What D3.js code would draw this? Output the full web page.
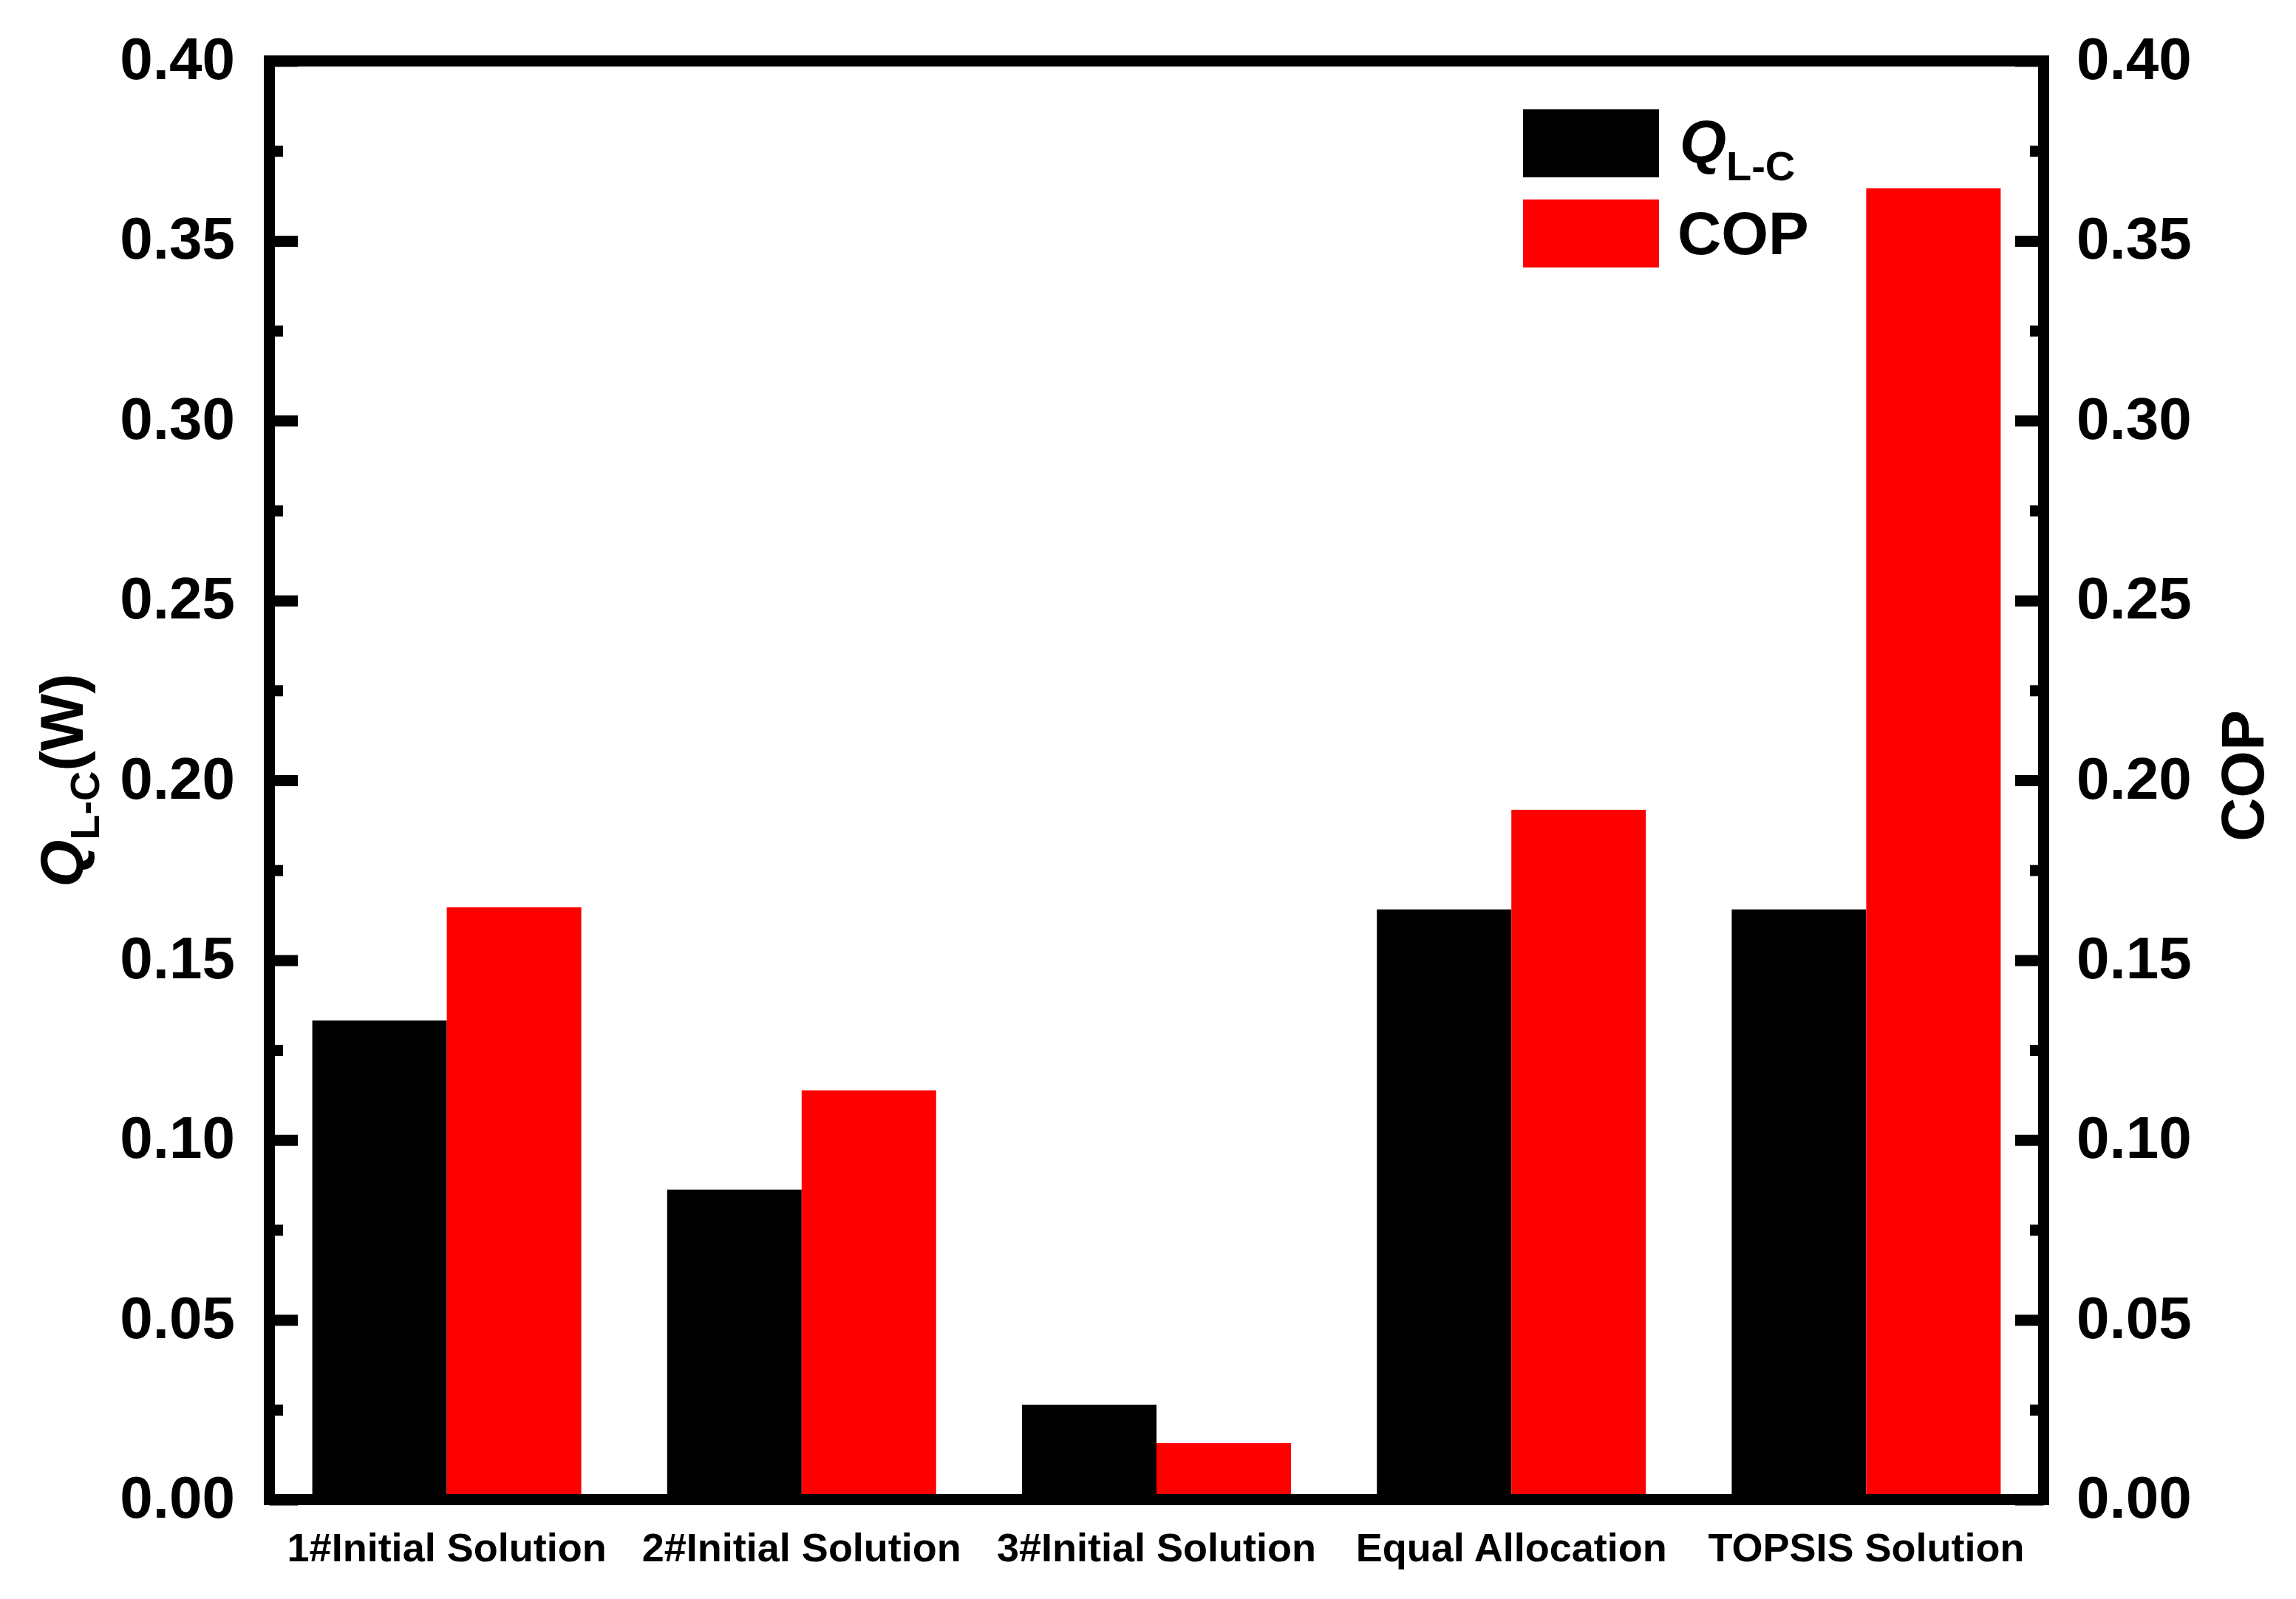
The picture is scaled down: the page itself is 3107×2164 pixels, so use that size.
<!DOCTYPE html>
<html>
<head>
<meta charset="utf-8">
<script src="https://cdn.jsdelivr.net/npm/d3@7"></script>
<style>
  html, body { margin: 0; padding: 0; background: #fff; }
  svg { display: block; }
  text { font-family: "Liberation Sans", Arial, Helvetica, sans-serif; font-weight: bold; fill: #000; }
</style>
</head>
<body>
<svg id="chart" width="3107" height="2164"></svg>
<script>
// ---- Data ----
const categories = ["1#Initial Solution", "2#Initial Solution", "3#Initial Solution", "Equal Allocation", "TOPSIS Solution"];
const qlcValues = [0.1332, 0.0862, 0.0264, 0.1641, 0.1641];
const copValues = [0.1647, 0.1138, 0.0157, 0.1918, 0.3646];
const majorTicks = [0.00, 0.05, 0.10, 0.15, 0.20, 0.25, 0.30, 0.35, 0.40];
const minorTicks = [0.025, 0.075, 0.125, 0.175, 0.225, 0.275, 0.325, 0.375];
const seriesNames = ["Q", "COP"];
const seriesColors = ["#000000", "#ff0000"];

(function () {
// ---- Layout ----
const pL = 364.5, pR = 2765.5, pT = 82.5, pB = 2029.5;
const axisW = 15;

const svg = d3.select("#chart");

const x = d3.scaleBand().domain(categories).range([pL, pR]).paddingInner(0).paddingOuter(0);
const y = d3.scaleLinear().domain([0, 0.4]).range([pB, pT]);
const yR = d3.scaleLinear().domain([0, 0.4]).range([pB, pT]);

const barW = x.bandwidth() * 0.379;

// bars
const gBars = svg.append("g");
gBars.selectAll("rect.q").data(categories).join("rect").attr("class", "q")
  .attr("x", d => x(d) + x.bandwidth() / 2 - barW)
  .attr("width", barW)
  .attr("y", (d, i) => y(qlcValues[i]))
  .attr("height", (d, i) => y(0) - y(qlcValues[i]))
  .attr("fill", seriesColors[0]);
gBars.selectAll("rect.c").data(categories).join("rect").attr("class", "c")
  .attr("x", d => x(d) + x.bandwidth() / 2)
  .attr("width", barW)
  .attr("y", (d, i) => yR(copValues[i]))
  .attr("height", (d, i) => yR(0) - yR(copValues[i]))
  .attr("fill", seriesColors[1]);

// frame
svg.append("rect")
  .attr("x", pL).attr("y", pT)
  .attr("width", pR - pL).attr("height", pB - pT)
  .attr("fill", "none").attr("stroke", "#000").attr("stroke-width", axisW);

function styleAxis(g, fontSize) {
  g.select(".domain").remove();
  g.selectAll(".tick line").attr("stroke", "#000").attr("stroke-width", axisW);
  g.selectAll(".tick text").attr("font-size", fontSize).attr("fill", "#000")
    .style("font-family", '"Liberation Sans", Arial, sans-serif').style("font-weight", "bold");
}

// left axis
const gL = svg.append("g").attr("transform", `translate(${pL},0)`)
  .call(d3.axisLeft(y).tickValues(majorTicks).tickSizeInner(-38.5).tickSizeOuter(0).tickPadding(46.5).tickFormat(d3.format(".2f")));
styleAxis(gL, 80);
gL.selectAll(".tick text").attr("dy", "0.3em");
const gLm = svg.append("g").attr("transform", `translate(${pL},0)`)
  .call(d3.axisLeft(y).tickValues(minorTicks).tickSizeInner(-18.5).tickSizeOuter(0).tickFormat(""));
styleAxis(gLm, 80);

// right axis
const gR = svg.append("g").attr("transform", `translate(${pR},0)`)
  .call(d3.axisRight(yR).tickValues(majorTicks).tickSizeInner(-38.5).tickSizeOuter(0).tickPadding(44.5).tickFormat(d3.format(".2f")));
styleAxis(gR, 80);
gR.selectAll(".tick text").attr("dy", "0.3em");
const gRm = svg.append("g").attr("transform", `translate(${pR},0)`)
  .call(d3.axisRight(yR).tickValues(minorTicks).tickSizeInner(-18.5).tickSizeOuter(0).tickFormat(""));
styleAxis(gRm, 80);

// bottom category axis
const gB = svg.append("g").attr("transform", `translate(0,${pB})`)
  .call(d3.axisBottom(x).tickSize(0).tickPadding(45));
styleAxis(gB, 54);
gB.selectAll(".tick line").remove();

// left axis title
const tl = svg.append("text")
  .attr("transform", `translate(112, ${(pT + pB) / 2}) rotate(-90)`)
  .attr("text-anchor", "middle")
  .attr("font-size", 82);
tl.append("tspan").attr("font-style", "italic").text("Q");
tl.append("tspan").attr("font-size", 56).attr("dy", 22).text("L-C");
tl.append("tspan").attr("dy", -22).text("(W)");

// right axis title
svg.append("text")
  .attr("transform", `translate(3063, ${(pT + pB) / 2 - 6}) rotate(-90)`)
  .attr("text-anchor", "middle")
  .attr("font-size", 82)
  .text("COP");

// legend
const legY = [148, 270];
const lg = svg.append("g");
lg.selectAll("rect").data(seriesNames).join("rect")
  .attr("x", 2061).attr("y", (d, i) => legY[i])
  .attr("width", 184).attr("height", 92)
  .attr("fill", (d, i) => seriesColors[i]);
const lt1 = lg.append("text").attr("x", 2273).attr("y", 220).attr("font-size", 81);
lt1.append("tspan").attr("font-style", "italic").text(seriesNames[0]);
lt1.append("tspan").attr("font-size", 56).attr("dy", 24).text("L-C");
lg.append("text").attr("x", 2270).attr("y", 344).attr("font-size", 82).text(seriesNames[1]);
})();
</script>
</body>
</html>
